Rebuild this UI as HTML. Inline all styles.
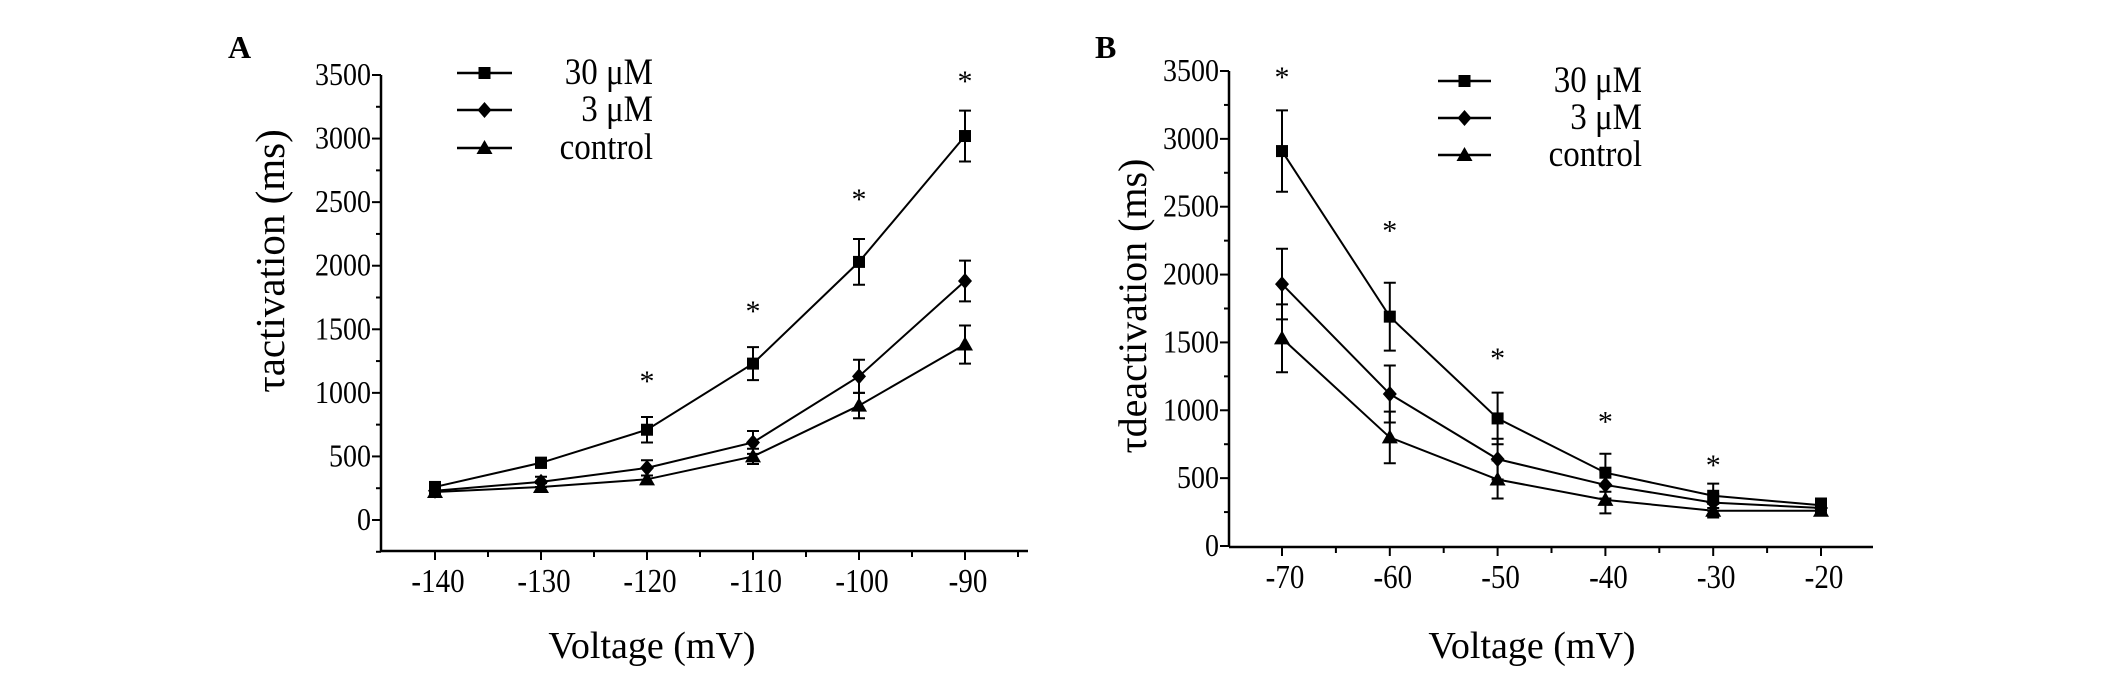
<!DOCTYPE html>
<html><head><meta charset="utf-8"><style>
html,body{margin:0;padding:0;background:#fff}
svg{display:block;font-family:"Liberation Serif",serif}
</style></head><body>
<svg id="chart" width="2126" height="676" viewBox="0 0 2126 676" xmlns="http://www.w3.org/2000/svg"></svg>
<script>
// Panel A data
const aVoltages = [-140,-130,-120,-110,-100,-90];
const a30 = [260,450,710,1230,2030,3020];
const a30err = [30,40,100,130,180,200];
const a3 = [230,300,410,610,1130,1880];
const a3err = [25,40,60,90,130,160];
const aCtrl = [220,260,320,500,900,1380];
const aCtrlErr = [20,30,30,60,100,150];
const aStarV = [-120,-110,-100,-90];
const aStarY = [1140,1690,2570,3500];
const aYTicks = [0,500,1000,1500,2000,2500,3000,3500];
// Panel B data
const bVoltages = [-70,-60,-50,-40,-30,-20];
const b30 = [2910,1690,940,540,370,300];
const b30err = [300,250,190,140,90,50];
const b3 = [1930,1120,640,450,320,280];
const b3err = [260,210,150,100,60,40];
const bCtrl = [1530,800,490,340,260,260];
const bCtrlErr = [250,190,140,100,50,30];
const bStarV = [-70,-60,-50,-40,-30];
const bStarY = [3500,2370,1430,960,640];
const bYTicks = [0,500,1000,1500,2000,2500,3000,3500];

const NS="http://www.w3.org/2000/svg";
const svg=document.getElementById('chart');
function mk(tag,attrs,parent){const e=document.createElementNS(NS,tag);for(const k in attrs)e.setAttribute(k,attrs[k]);(parent||svg).appendChild(e);return e;}

function panel(cfg){
  const g=mk('g',{});
  
  
  const sx=v=>cfg.x0+(v-cfg.v0)*cfg.xstep/10;
  const sy=v=>cfg.y0-v*(cfg.y0-cfg.y3500)/3500;
  const ya=mk('line',{x1:cfg.ax,y1:cfg.axTop,x2:cfg.ax,y2:cfg.axY,stroke:'#000','stroke-width':2.5},g);
  
  
  const xa=mk('line',{x1:cfg.ax,y1:cfg.axY,x2:cfg.axRight,y2:cfg.axY,stroke:'#000','stroke-width':2.5},g);
  
  
  cfg.yticks.forEach((t,i)=>{
    const y=sy(t);
    mk('line',{x1:cfg.ax-9,y1:y,x2:cfg.ax,y2:y,stroke:'#000','stroke-width':2},g);
    if(i<cfg.yticks.length-1){const ym=sy(t+250);mk('line',{x1:cfg.ax-5,y1:ym,x2:cfg.ax,y2:ym,stroke:'#000','stroke-width':2},g);}
    const tx=mk('text',{x:0,y:0,'text-anchor':'end','font-size':28,transform:`translate(${cfg.ax-10},${y+10}) scale(1,1.15)`},g);
    tx.textContent=t;
    
    
  });
  if(cfg.belowZero){const ym=sy(-250);mk('line',{x1:cfg.ax-5,y1:ym,x2:cfg.ax,y2:ym,stroke:'#000','stroke-width':2},g);}
  const vs=cfg.volts;
  for(let v=vs[0]-5;v<=vs[vs.length-1]+5;v+=5){
    const x=sx(v);
    if(x<cfg.ax+2||x>cfg.axRight+1)continue;
    const major=(v%10===0);
    mk('line',{x1:x,y1:cfg.axY,x2:x,y2:cfg.axY+(major?9:6),stroke:'#000','stroke-width':2},g);
  }
  vs.forEach(v=>{
    const tx=mk('text',{x:0,y:0,'text-anchor':'middle','font-size':29,transform:`translate(${sx(v)+3},${cfg.axY+41}) scale(1,1.15)`},g);
    tx.textContent=v;
    
    
  });
  const xt=mk('text',{x:cfg.xTitleX,y:658,'text-anchor':'middle','font-size':38},g);
  xt.textContent='Voltage (mV)';
  
  
  const yt=mk('text',{x:0,y:0,'text-anchor':'middle','font-size':cfg.yTitleSize,transform:`translate(${cfg.yTitleX},${cfg.yTitleY}) rotate(-90)`},g);
  yt.textContent=cfg.ytitle;
  
  
  const lb=mk('text',{x:cfg.labelX,y:58,'font-size':32,'font-weight':'bold'},g);
  lb.textContent=cfg.label;
  
  
  function marker(type,x,y,parent){
    if(type==='square')return mk('rect',{x:x-6,y:y-6,width:12,height:12,fill:'#000'},parent);
    if(type==='diamond')return mk('polygon',{points:`${x},${y-8} ${x+7},${y} ${x},${y+8} ${x-7},${y}`,fill:'#000'},parent);
    return mk('polygon',{points:`${x},${y-8} ${x+8},${y+6} ${x-8},${y+6}`,fill:'#000'},parent);
  }
  cfg.series.forEach(s=>{
    const sg=mk('g',{},g);
    
    
    const pts=vs.map((v,i)=>sx(v)+','+sy(s.vals[i])).join(' ');
    mk('polyline',{points:pts,fill:'none',stroke:'#000','stroke-width':2},sg);
    vs.forEach((v,i)=>{
      const x=sx(v),y1=sy(s.vals[i]+s.err[i]),y2=sy(s.vals[i]-s.err[i]);
      const eb=mk('path',{d:`M${x},${y1}V${y2}M${x-6},${y1}H${x+6}M${x-6},${y2}H${x+6}`,stroke:'#000','stroke-width':2,fill:'none'},sg);
      
      
      const m=marker(s.marker,x,sy(s.vals[i]),sg);
      
      
    });
  });
  cfg.starV.forEach((v,i)=>{
    const st=mk('text',{x:sx(v),y:sy(cfg.starY[i])+16,'text-anchor':'middle','font-size':30},g);
    st.textContent='*';
    
    
  });
  const lg=mk('g',{},g);
  
  
  cfg.series.forEach((s,i)=>{
    const y=cfg.legY[i];
    const e=mk('g',{},lg);
    
    
    mk('line',{x1:cfg.legX1,y1:y,x2:cfg.legX2,y2:y,stroke:'#000','stroke-width':2.5},e);
    marker(s.marker,(cfg.legX1+cfg.legX2)/2,y,e);
    const t=mk('text',{x:0,y:0,'text-anchor':'end','font-size':33,transform:`translate(${cfg.legTextR},${y+11}) scale(1,1.12)`},e);
    t.textContent=s.label;
  });
}

panel({name:'panel-a',label:'A',labelX:228,x0:435,v0:-140,xstep:106,y0:520,y3500:75,
  ax:381,axTop:75,axY:551,axRight:1028,belowZero:true,volts:aVoltages,yticks:aYTicks,
  ytitle:'\u03c4activation (ms)',yTitleSize:41,yTitleX:284,yTitleY:261,xTitleX:652,
  starV:aStarV,starY:aStarY,legX1:457,legX2:512,legY:[73,110,148],legTextR:653,
  series:[{name:'30uM',label:'30 \u03bcM',marker:'square',vals:a30,err:a30err},
          {name:'3uM',label:'3 \u03bcM',marker:'diamond',vals:a3,err:a3err},
          {name:'control',label:'control',marker:'triangle',vals:aCtrl,err:aCtrlErr}]});
panel({name:'panel-b',label:'B',labelX:1095,x0:1282,v0:-70,xstep:107.8,y0:546,y3500:71,
  ax:1229,axTop:71,axY:547,axRight:1873,belowZero:false,volts:bVoltages,yticks:bYTicks,
  ytitle:'\u03c4deactivation (ms)',yTitleSize:40,yTitleX:1146,yTitleY:306,xTitleX:1532,
  starV:bStarV,starY:bStarY,legX1:1438,legX2:1491,legY:[81,118,155],legTextR:1642,
  series:[{name:'30uM',label:'30 \u03bcM',marker:'square',vals:b30,err:b30err},
          {name:'3uM',label:'3 \u03bcM',marker:'diamond',vals:b3,err:b3err},
          {name:'control',label:'control',marker:'triangle',vals:bCtrl,err:bCtrlErr}]});
</script>
</body></html>
